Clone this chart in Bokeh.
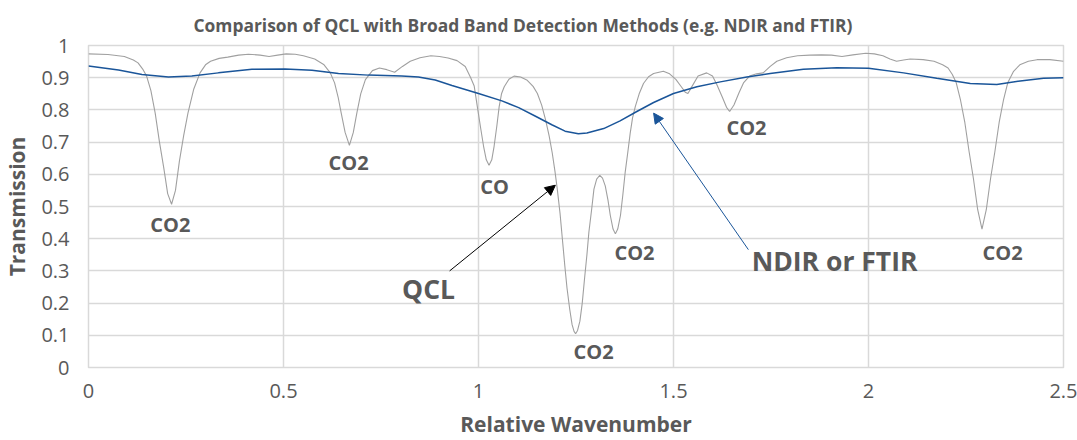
from bokeh.plotting import figure
from bokeh.models import Arrow, NormalHead, Range1d, FixedTicker, NumeralTickFormatter
from bokeh.core.properties import value
from bokeh.embed import file_html
from bokeh.resources import INLINE

# ---- data ----
qcl_x = [0.000, 0.050, 0.092, 0.115, 0.127, 0.140, 0.149, 0.160, 0.171, 0.182, 0.193, 0.203, 0.213,
         0.223, 0.233, 0.244, 0.255, 0.270, 0.286, 0.300, 0.313, 0.335, 0.357, 0.385, 0.410, 0.440,
         0.463, 0.485, 0.507, 0.530, 0.551, 0.580, 0.604, 0.620, 0.631, 0.640, 0.648, 0.658, 0.669,
         0.679, 0.688, 0.698, 0.710, 0.728, 0.746, 0.765, 0.785, 0.805, 0.825, 0.850, 0.878, 0.900,
         0.922, 0.945, 0.966, 0.980, 0.989, 0.997, 1.006, 1.013, 1.020, 1.027, 1.034, 1.040, 1.047,
         1.053, 1.059, 1.066, 1.078, 1.091, 1.108, 1.125, 1.140, 1.151, 1.162, 1.172, 1.181, 1.189,
         1.196, 1.202, 1.209, 1.215, 1.221, 1.227, 1.234, 1.240, 1.245, 1.249, 1.254, 1.260, 1.266,
         1.272, 1.278, 1.283, 1.290, 1.296, 1.303, 1.311, 1.318, 1.325, 1.332, 1.338, 1.345, 1.351,
         1.357, 1.364, 1.370, 1.376, 1.383, 1.389, 1.395, 1.402, 1.412, 1.423, 1.436, 1.449, 1.474,
         1.490, 1.506, 1.520, 1.530, 1.537, 1.546, 1.563, 1.585, 1.600, 1.611, 1.625, 1.636, 1.644,
         1.655, 1.668, 1.680, 1.695, 1.713, 1.730, 1.748, 1.765, 1.790, 1.818, 1.850, 1.879, 1.905,
         1.932, 1.960, 1.993, 2.015, 2.037, 2.055, 2.072, 2.090, 2.107, 2.140, 2.168, 2.190, 2.204,
         2.215, 2.225, 2.236, 2.247, 2.258, 2.269, 2.280, 2.291, 2.302, 2.313, 2.324, 2.335, 2.346,
         2.357, 2.372, 2.388, 2.410, 2.432, 2.465, 2.500]
qcl_y = [0.974, 0.972, 0.966, 0.955, 0.946, 0.925, 0.905, 0.860, 0.790, 0.700, 0.620, 0.540, 0.507,
         0.550, 0.640, 0.720, 0.790, 0.865, 0.915, 0.940, 0.951, 0.960, 0.964, 0.970, 0.973, 0.970,
         0.966, 0.970, 0.974, 0.973, 0.968, 0.958, 0.940, 0.915, 0.884, 0.840, 0.790, 0.730, 0.690,
         0.730, 0.790, 0.850, 0.894, 0.922, 0.930, 0.925, 0.917, 0.935, 0.951, 0.962, 0.968, 0.966,
         0.961, 0.953, 0.935, 0.900, 0.874, 0.810, 0.740, 0.687, 0.645, 0.628, 0.645, 0.687, 0.750,
         0.810, 0.850, 0.872, 0.895, 0.905, 0.902, 0.892, 0.873, 0.851, 0.815, 0.769, 0.720, 0.667,
         0.610, 0.554, 0.480, 0.400, 0.320, 0.246, 0.180, 0.133, 0.112, 0.105, 0.115, 0.144, 0.200,
         0.277, 0.350, 0.420, 0.490, 0.554, 0.585, 0.597, 0.588, 0.564, 0.520, 0.472, 0.430, 0.415,
         0.430, 0.472, 0.535, 0.605, 0.670, 0.728, 0.775, 0.810, 0.850, 0.882, 0.903, 0.913, 0.920,
         0.912, 0.895, 0.872, 0.855, 0.851, 0.870, 0.905, 0.915, 0.905, 0.879, 0.840, 0.808, 0.795,
         0.815, 0.853, 0.885, 0.905, 0.912, 0.915, 0.935, 0.951, 0.962, 0.968, 0.970, 0.971, 0.970,
         0.966, 0.971, 0.976, 0.974, 0.968, 0.958, 0.951, 0.955, 0.958, 0.956, 0.951, 0.940, 0.930,
         0.910, 0.884, 0.830, 0.761, 0.670, 0.587, 0.490, 0.430, 0.490, 0.587, 0.670, 0.761, 0.830,
         0.884, 0.920, 0.940, 0.951, 0.956, 0.956, 0.951]

ndir_x = [0.000, 0.077, 0.137, 0.205, 0.265, 0.333, 0.419, 0.504, 0.573, 0.641, 0.718, 0.803, 0.846,
          0.889, 0.932, 1.000, 1.060, 1.103, 1.145, 1.188, 1.222, 1.256, 1.278, 1.321, 1.363, 1.406,
          1.449, 1.500, 1.560, 1.620, 1.688, 1.748, 1.833, 1.919, 2.000, 2.090, 2.175, 2.261, 2.329,
          2.389, 2.449, 2.500]
ndir_y = [0.936, 0.924, 0.910, 0.902, 0.905, 0.915, 0.926, 0.927, 0.923, 0.913, 0.908, 0.905, 0.902,
          0.893, 0.876, 0.851, 0.828, 0.807, 0.781, 0.754, 0.734, 0.726, 0.728, 0.742, 0.766, 0.795,
          0.823, 0.851, 0.872, 0.887, 0.902, 0.913, 0.926, 0.931, 0.929, 0.915, 0.898, 0.882, 0.879,
          0.890, 0.898, 0.900]

gas_labels = ["CO2", "CO2", "CO", "CO2", "CO2", "CO2", "CO2"]
gas_label_x = [0.210, 0.667, 1.041, 1.295, 1.400, 1.687, 2.344]
gas_label_y = [0.443, 0.637, 0.563, 0.050, 0.357, 0.745, 0.357]

method_labels = ["QCL", "NDIR or FTIR"]
method_label_x = [0.872, 1.913]
method_label_y = [0.243, 0.332]

# arrows: (x_start, y_start, x_end, y_end)
qcl_arrow = [0.926, 0.300, 1.197, 0.566]
ndir_arrow = [1.692, 0.366, 1.449, 0.790]

x_ticks = [0, 0.5, 1, 1.5, 2, 2.5]
y_ticks = [0, 0.1, 0.2, 0.3, 0.4, 0.5, 0.6, 0.7, 0.8, 0.9, 1.0]

title_text = "Comparison of QCL with Broad Band Detection Methods (e.g. NDIR and FTIR)"

# ---- styling ----
FONT = "Open Sans"
TXT = "#595959"
GRID = "#d9d9d9"
QCL_C = "#a0a0a0"
NDIR_C = "#1a5599"

p = figure(width=1077, height=440, output_backend="svg", toolbar_location=None,
           x_range=Range1d(0, 2.5), y_range=Range1d(0, 1),
           min_border_left=88, min_border_right=14, min_border_top=45, min_border_bottom=70,
           background_fill_color="white", border_fill_color="white")

p.title.text = title_text
p.title.text_font = FONT
p.title.text_font_size = "17.4px"
p.title.text_font_style = "bold"
p.title.text_color = TXT
p.title.align = "left"
p.title.offset = 105
p.title.vertical_align = "top"
p.title.standoff = 14

p.outline_line_color = GRID
p.outline_line_width = 1.5

for ax in (p.xaxis[0], p.yaxis[0]):
    ax.axis_line_color = None
    ax.major_tick_line_color = None
    ax.minor_tick_line_color = None
    ax.major_label_text_font = FONT
    ax.major_label_text_font_size = "20px"
    ax.major_label_text_color = TXT
    ax.axis_label_text_font = FONT
    ax.axis_label_text_font_size = "21px"
    ax.axis_label_text_font_style = "bold"
    ax.axis_label_text_color = TXT
    ax.formatter = NumeralTickFormatter(format="0.[0]")

p.xaxis.ticker = FixedTicker(ticks=x_ticks)
p.yaxis.ticker = FixedTicker(ticks=y_ticks)
p.xaxis.axis_label = "Relative Wavenumber"
p.yaxis.axis_label = "Transmission"
p.xaxis.major_label_standoff = 10
p.xaxis.axis_label_standoff = 9
p.yaxis.major_label_standoff = 13
p.yaxis.axis_label_standoff = 7

p.xgrid.ticker = FixedTicker(ticks=x_ticks)
p.ygrid.ticker = FixedTicker(ticks=y_ticks)
p.grid.grid_line_color = GRID
p.grid.grid_line_width = 1.5

p.line(qcl_x, qcl_y, line_color=QCL_C, line_width=1.1)
p.line(ndir_x, ndir_y, line_color=NDIR_C, line_width=1.5)

p.text(x=gas_label_x, y=gas_label_y, text=gas_labels, text_font=value(FONT),
       text_font_size="20px", text_font_style="bold", text_color=TXT,
       text_align="center", text_baseline="middle")
p.text(x=method_label_x, y=method_label_y, text=method_labels, text_font=value(FONT),
       text_font_size="26.5px", text_font_style="bold", text_color=TXT,
       text_align="center", text_baseline="middle")

p.add_layout(Arrow(end=NormalHead(size=10, fill_color="black", line_color="black"),
                   x_start=qcl_arrow[0], y_start=qcl_arrow[1], x_end=qcl_arrow[2], y_end=qcl_arrow[3],
                   line_color="black", line_width=1))
p.add_layout(Arrow(end=NormalHead(size=10, fill_color=NDIR_C, line_color=NDIR_C),
                   x_start=ndir_arrow[0], y_start=ndir_arrow[1], x_end=ndir_arrow[2], y_end=ndir_arrow[3],
                   line_color=NDIR_C, line_width=1))

open("out.html", "w").write(file_html(p, INLINE))
